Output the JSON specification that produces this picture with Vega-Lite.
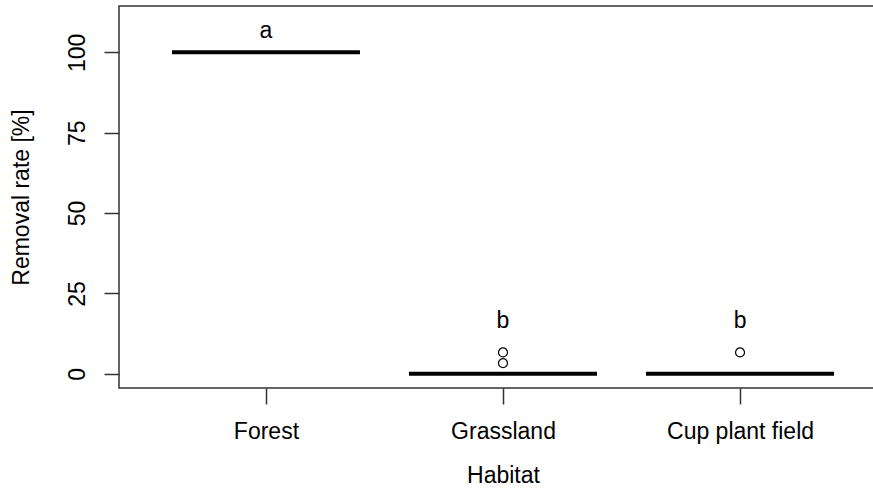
{
  "$schema": "https://vega.github.io/schema/vega-lite/v6.json",
  "width": 768,
  "height": 382,
  "autosize": {"type": "none"},
  "padding": {"left": 119, "top": 6, "right": 0, "bottom": 100},
  "background": "white",
  "config": {
    "font": "Liberation Sans",
    "view": {"stroke": "#333333", "strokeWidth": 1.5},
    "axis": {"grid": false, "domain": false, "tickColor": "#333333", "tickWidth": 1.5, "labelColor": "black", "titleColor": "black", "labelFontSize": 23, "titleFontSize": 23, "titleFontWeight": "normal", "labelFont": "Liberation Sans", "titleFont": "Liberation Sans"}
  },
  "datasets": {
    "medians": [
      {"Habitat": "Forest", "rate": 100},
      {"Habitat": "Grassland", "rate": 0},
      {"Habitat": "Cup plant field", "rate": 0}
    ],
    "outliers": [
      {"Habitat": "Grassland", "rate": 6.67},
      {"Habitat": "Grassland", "rate": 3.33},
      {"Habitat": "Cup plant field", "rate": 6.67}
    ],
    "letters": [
      {"Habitat": "Forest", "rate": 104.3, "label": "a"},
      {"Habitat": "Grassland", "rate": 14.2, "label": "b"},
      {"Habitat": "Cup plant field", "rate": 14.2, "label": "b"}
    ]
  },
  "encoding": {
    "x": {
      "field": "Habitat", "type": "nominal",
      "scale": {"type": "point", "padding": 0.62, "domain": ["Forest", "Grassland", "Cup plant field"]},
      "axis": {"title": "Habitat", "labelAngle": 0, "tickSize": 16, "labelPadding": 16, "titlePadding": 21}
    },
    "y": {
      "field": "rate", "type": "quantitative",
      "scale": {"domain": [-4.4, 114.4], "nice": false, "zero": false},
      "axis": {"title": "Removal rate [%]", "values": [0, 25, 50, 75, 100], "tickSize": 15, "labelAngle": -90, "labelAlign": "center", "labelBaseline": "alphabetic", "labelPadding": 20, "titlePadding": 33}
    }
  },
  "layer": [
    {
      "data": {"name": "medians"},
      "mark": {"type": "tick", "size": 188, "thickness": 4, "color": "black", "opacity": 1}
    },
    {
      "data": {"name": "outliers"},
      "mark": {"type": "point", "shape": "circle", "filled": false, "size": 80, "stroke": "black", "strokeWidth": 1.2, "opacity": 1}
    },
    {
      "data": {"name": "letters"},
      "mark": {"type": "text", "fontSize": 23, "baseline": "alphabetic", "align": "center", "color": "black"},
      "encoding": {"text": {"field": "label"}}
    }
  ]
}
